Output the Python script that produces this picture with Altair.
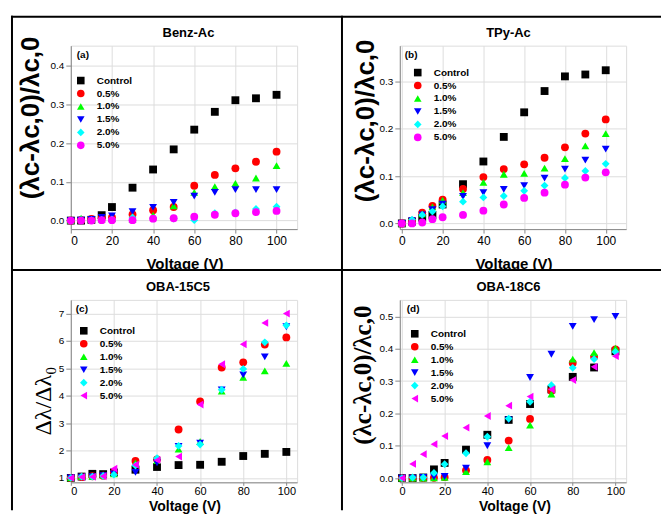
import altair as alt
import pandas as pd

voltage = [0, 5, 10, 15, 20, 30, 40, 50, 60, 70, 80, 90, 100]
series = ["Control", "0.5%", "1.0%", "1.5%", "2.0%", "5.0%"]
colors = ["#000000", "#FF0000", "#00FF00", "#0000FF", "#00FFFF", "#FF00FF"]
shapes_ab = ["square", "circle", "triangle-up", "triangle-down", "diamond", "circle"]
shapes_cd = ["square", "circle", "triangle-up", "triangle-down", "diamond", "triangle-left"]
panel_titles = ["Benz-Ac", "TPy-Ac", "OBA-15C5", "OBA-18C6"]
panel_labels = ["(a)", "(b)", "(c)", "(d)"]

# (a) Benz-Ac
control_a = [0, 0, 0.002, 0.014, 0.035, 0.085, 0.132, 0.184, 0.235, 0.281, 0.311, 0.316, 0.325]
p05_a = [0, 0.001, 0.004, 0.006, 0.008, 0.016, 0.027, 0.035, 0.090, 0.118, 0.135, 0.152, 0.178]
p10_a = [0, 0.006, 0.003, 0.004, 0.005, 0.003, 0.014, 0.038, 0.073, 0.088, 0.096, 0.110, 0.142]
p15_a = [0, 0.001, 0.003, 0.008, 0.012, 0.023, 0.034, 0.047, 0.063, 0.073, 0.080, 0.080, 0.080]
p20_a = [0, 0.001, 0.001, 0.002, 0.003, 0.008, 0.005, 0.005, 0.001, 0.019, 0.021, 0.030, 0.036]
p50_a = [0, 0, 0, 0.001, 0.001, 0.001, 0.005, 0.006, 0.010, 0.015, 0.019, 0.022, 0.025]

# (b) TPy-Ac
control_b = [0, 0.004, 0.012, 0.018, 0.040, 0.083, 0.131, 0.183, 0.235, 0.280, 0.311, 0.315, 0.324]
p05_b = [0, 0.006, 0.023, 0.037, 0.050, 0.073, 0.098, 0.115, 0.125, 0.139, 0.161, 0.190, 0.220]
p10_b = [0, 0.007, 0.020, 0.035, 0.049, 0.065, 0.087, 0.104, 0.106, 0.117, 0.137, 0.164, 0.190]
p15_b = [0, 0.006, 0.018, 0.029, 0.041, 0.057, 0.065, 0.072, 0.080, 0.096, 0.115, 0.134, 0.157]
p20_b = [0, 0.008, 0.018, 0.025, 0.036, 0.046, 0.055, 0.058, 0.069, 0.080, 0.096, 0.111, 0.126]
p50_b = [0, 0, 0.002, 0.009, 0.013, 0.018, 0.027, 0.040, 0.054, 0.065, 0.082, 0.097, 0.108]

# (c) OBA-15C5
control_c = [1.0, 1.05, 1.15, 1.14, 1.2, 1.3, 1.40, 1.47, 1.48, 1.59, 1.80, 1.88, 1.95]
p05_c = [1.0, 1.03, 1.06, 1.08, 1.2, 1.62, 1.68, 2.77, 3.79, 5.03, 5.22, 5.87, 6.13]
p10_c = [1.0, 1.05, 1.05, 1.1, 1.15, 1.55, 1.63, 2.05, 2.33, 4.17, 4.67, 4.91, 5.18]
p15_c = [1.0, 1.03, 1.05, 1.08, 1.15, 1.20, 1.55, 2.15, 2.27, 4.21, 4.76, 5.42, 6.52]
p20_c = [1.0, 1.05, 1.05, 1.07, 1.12, 1.45, 1.72, 2.17, 2.22, 4.22, 4.98, 5.95, 6.57]
p50_c = [1.0, 1.03, 1.04, 1.06, 1.34, 1.48, 1.65, 1.78, 3.68, 5.15, 5.88, 6.66, 7.0]

# (d) OBA-18C6
control_d = [0, 0, 0.002, 0.027, 0.047, 0.088, 0.134, 0.180, 0.229, 0.274, 0.313, 0.342, 0.392]
p05_d = [0, 0, 0, 0.001, 0.003, 0.024, 0.056, 0.116, 0.183, 0.270, 0.356, 0.375, 0.398]
p10_d = [0, 0, 0, 0.001, 0.002, 0.020, 0.050, 0.094, 0.164, 0.260, 0.368, 0.388, 0.402]
p15_d = [0, 0, 0.002, 0.004, 0.005, 0.031, 0.100, 0.180, 0.311, 0.383, 0.469, 0.490, 0.500]
p20_d = [0, 0.002, 0.002, 0.016, 0.043, 0.077, 0.128, 0.184, 0.236, 0.287, 0.341, 0.368, 0.390]
p50_d = [0, 0.044, 0.074, 0.105, 0.130, 0.156, 0.192, 0.224, 0.252, 0.274, 0.303, 0.344, 0.377]

SANS = "Liberation Sans"
SERIF = "Liberation Serif"


def make_df(lists):
    rows = []
    for s, vals in zip(series, lists):
        for v, y in zip(voltage, vals):
            rows.append({"V": v, "val": y, "s": s})
    return pd.DataFrame(rows)


def legend(lx, ly):
    return alt.Legend(title=None, orient="none", legendX=lx, legendY=ly, labelOffset=11,
                      labelFont=SANS, labelFontSize=10, labelFontWeight="bold", labelColor="#000",
                      symbolSize=58, symbolStrokeWidth=0, rowPadding=3, padding=0)


def panel(lists, title, title_x, title_y, label, label_x, ytitle, yfont, yweight, ysize,
          ytx, yty, ydomain, yticks, yfmt, xdomain, xtx, xty, shapes, lx, ly, h,
          xlab=12, xtick=4, xpad=2, xtsize=15, extra=None):
    df = make_df(lists)
    pts = alt.Chart(df).mark_point(filled=True, size=62, opacity=1, strokeWidth=0).encode(
        x=alt.X("V:Q",
                scale=alt.Scale(domain=xdomain, nice=False, zero=False),
                axis=alt.Axis(values=[0, 20, 40, 60, 80, 100], title="Voltage (V)",
                              labelFontSize=xlab, tickSize=xtick, labelPadding=xpad,
                              titleFont=SANS, titleFontSize=xtsize, titleFontWeight="bold",
                              titleColor="#000", titleX=xtx, titleY=xty,
                              titleBaseline="alphabetic", titleAlign="center")),
        y=alt.Y("val:Q",
                scale=alt.Scale(domain=ydomain, nice=False, zero=False),
                axis=alt.Axis(values=yticks, format=yfmt, title=ytitle,
                              titleFont=yfont, titleFontSize=ysize, titleFontWeight=yweight,
                              titleColor="#000", titleX=ytx, titleY=yty, titleAngle=270,
                              titleBaseline="middle", titleAlign="center")),
        color=alt.Color("s:N", scale=alt.Scale(domain=series, range=colors), legend=legend(lx, ly)),
        shape=alt.Shape("s:N", scale=alt.Scale(domain=series, range=shapes), legend=legend(lx, ly)),
    )
    lab = alt.Chart(pd.DataFrame({"t": [label]})).mark_text(
        align="left", baseline="alphabetic", fontSize=10, fontWeight="bold", font=SANS, color="#000"
    ).encode(x=alt.value(label_x), y=alt.value(12), text="t:N")
    ttl = alt.Chart(pd.DataFrame({"t": [title]})).mark_text(
        align="center", baseline="alphabetic", fontSize=13, fontWeight="bold", font=SANS, color="#000"
    ).encode(x=alt.value(title_x), y=alt.value(title_y), text="t:N")
    layers = [pts, lab, ttl]
    if extra is not None:
        layers = extra + layers
    return alt.layer(*layers).properties(width=227, height=h)


one = pd.DataFrame({"k": [0]})
# frame drawn relative to panel (c) plot origin
white = alt.Chart(one).mark_rect(color="white").encode(
    x=alt.value(-60), x2=alt.value(592), y=alt.value(-31), y2=alt.value(-20))
frame_specs = [
    (-60, 592, -284, -284),   # top border
    (-59, -59, -285, 211),    # left border
    (272, 272, -285, 211),    # vertical divider
    (-60, 592, -30, -30),     # horizontal divider
]
frames = [white]
for x1, x2, y1, y2 in frame_specs:
    frames.append(alt.Chart(one).mark_rule(color="#000", strokeWidth=2).encode(
        x=alt.value(x1), x2=alt.value(x2), y=alt.value(y1), y2=alt.value(y2)))

lam_title = "(λc-λc,0)/λc,0"

pa = panel([control_a, p05_a, p10_a, p15_a, p20_a, p50_a], panel_titles[0], 118, -8.5, panel_labels[0], 6,
           lam_title, SANS, "bold", 26, -40, 72, [-0.022, 0.452], [0, 0.1, 0.2, 0.3, 0.4], ".1f",
           [0, 110], 114, 39.5, shapes_ab, 5, 30, 184)
pb = panel([control_b, p05_b, p10_b, p15_b, p20_b, p50_b], panel_titles[1], 109, -8.5, panel_labels[1], 5,
           lam_title, SANS, "bold", 26, -34, 75, [-0.012, 0.376], [0, 0.1, 0.2, 0.3], ".1f",
           [-1, 110], 114, 39.5, shapes_ab, 13, 22, 184)
pc = panel([control_c, p05_c, p10_c, p15_c, p20_c, p50_c], panel_titles[2], 107.5, -9, panel_labels[2], 5,
           "Δλ/Δλ₀", SERIF, "normal", 24, -27, 101, [0.84, 7.5], [1, 2, 3, 4, 5, 6, 7], "d",
           [0, 105], 114, 28.2, shapes_cd, 8, 26, 183,
           xlab=11, xtick=3, xpad=0, xtsize=14, extra=frames)
pd_ = panel([control_d, p05_d, p10_d, p15_d, p20_d, p50_d], panel_titles[3], 109, -9, panel_labels[3], 7,
            lam_title, SERIF, "bold", 25, -37, 75, [-0.013, 0.551], [0, 0.1, 0.2, 0.3, 0.4, 0.5], ".1f",
            [-1, 105], 115, 28.2, shapes_cd, 10, 29, 183,
            xlab=11, xtick=3, xpad=0, xtsize=14)

chart = alt.concat(pa, pb, pc, pd_, columns=2, spacing={"row": 71, "column": 103}, bounds="flush").resolve_scale(
    color="independent", shape="independent"
).resolve_legend(color="independent", shape="independent").properties(
    padding={"left": 1, "top": 5, "right": 0, "bottom": 0}
).configure_view(stroke="#888888", strokeWidth=1).configure_axis(
    grid=False, domain=False, ticks=True, tickColor="#555", tickSize=4, tickWidth=1,
    labelFont=SANS, labelFontSize=12, labelColor="#222", labelPadding=2
).configure(background="white")

chart.save("out.html", embed_options={"renderer": "svg", "actions": False})
